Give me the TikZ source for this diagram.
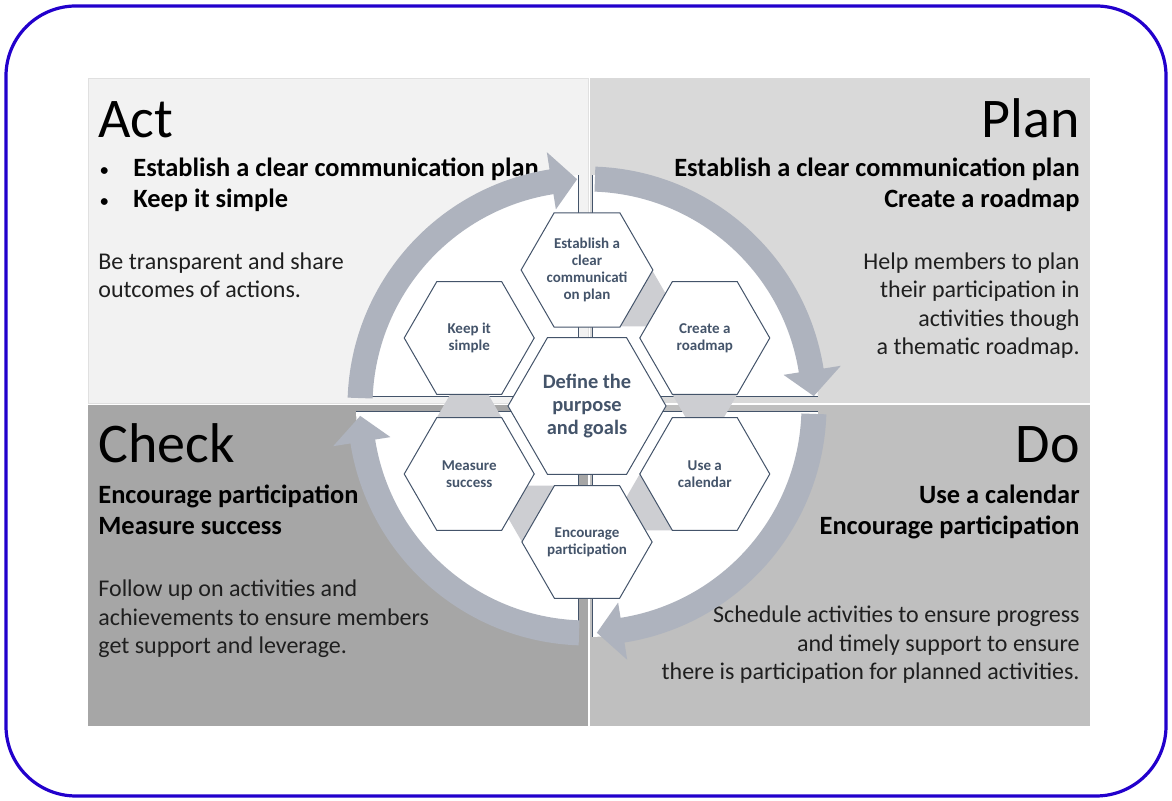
\documentclass[tikz,border=0pt]{standalone}
\usepackage{fontspec}
\setmainfont{Carlito}
\usetikzlibrary{calc,shapes.geometric}
\definecolor{Frame}{HTML}{2200CC}
\definecolor{ActBg}{HTML}{F2F2F2}
\definecolor{PlanBg}{HTML}{D9D9D9}
\definecolor{CheckBg}{HTML}{A6A6A6}
\definecolor{DoBg}{HTML}{BFBFBF}
\definecolor{Slate}{HTML}{44546A}
\definecolor{Ring}{HTML}{AEB3BE}
\definecolor{Cue}{HTML}{CDCED2}
\definecolor{Ink}{HTML}{1F1F1F}
\tikzset{
  panel/.style={draw=black!12,line width=0.4pt},
  title/.style={font=\fontsize{28}{34}\selectfont,text=black,inner sep=0pt},
  lead/.style={font=\fontsize{13.2}{15.5}\selectfont\bfseries,text=black,inner sep=0pt},
  note/.style={font=\fontsize{12}{14.25}\selectfont,text=Ink,inner sep=0pt},
  hexcell/.style={regular polygon,regular polygon sides=6,draw=Slate,fill=white,line width=0.5pt,minimum size=65pt,inner sep=0pt,outer sep=0pt,align=center,font=\fontsize{7.5}{8.6}\selectfont\bfseries,text=Slate},
  hexcore/.style={hexcell,minimum size=79pt,font=\fontsize{10.2}{11.5}\selectfont\bfseries},
  ringarrow/.style={fill=Ring},
  cue/.style={fill=Cue},
  axisline/.style={draw=Slate,line width=0.5pt}
}
\newcommand{\bul}{\makebox[17.5pt][l]{\hspace{1pt}\raisebox{0.5pt}{\fontsize{8}{8}\selectfont •}}}

\begin{document}
\begin{tikzpicture}[x=0.5pt,y=0.5pt]
  \useasboundingbox (0,0) rectangle (1172,801);
  \draw[Frame,line width=1.6pt,rounded corners=35pt] (6,5) rectangle (1166,795);

  \fill[ActBg,panel] (88,398) rectangle (588,723);
  \fill[PlanBg] (590,398) rectangle (1090,723);
  \fill[CheckBg] (88,75) rectangle (588,396);
  \fill[DoBg] (590,75) rectangle (1090,396);

  \node[title,anchor=base west] (acttitle) at (98,663) {Act};
  \node[title,anchor=base east] (plantitle) at (1080,663) {Plan};
  \node[title,anchor=base west] (checktitle) at (98,338) {Check};
  \node[title,anchor=base east] (dotitle) at (1080,338) {Do};

  \node[lead,anchor=base west,align=left] (actlead) at (98,593) {\bul Establish a clear communication plan\\\bul Keep it simple};
  \node[lead,anchor=base east,align=right] (planlead) at (1080,593) {Establish a clear communication plan\\Create a roadmap};
  \node[lead,anchor=base west,align=left] (checklead) at (98,266) {Encourage participation\\Measure success};
  \node[lead,anchor=base east,align=right] (dolead) at (1080,266) {Use a calendar\\Encourage participation};

  \node[note,anchor=base west,align=left] (actnote) at (98,503) {Be transparent and share\\outcomes of actions.};
  \node[note,anchor=base east,align=right] (plannote) at (1080,446) {Help members to plan\\their participation in\\activities though\\a thematic roadmap.};
  \node[note,anchor=base west,align=left] (checknote) at (98,147) {Follow up on activities and\\achievements to ensure members\\get support and leverage.};
  \node[note,anchor=base east,align=right] (donote) at (1080,121) {Schedule activities to ensure progress\\and timely support to ensure\\there is participation for planned activities.};

  \coordinate (mid) at (587,395);
  \begin{scope}
    \clip (mid) circle (231);
    \fill[white] (578,404) rectangle (300,700);
    \fill[white] (592,404) rectangle (900,700);
    \fill[white] (578,389) rectangle (300,90);
    \fill[white] (592,389) rectangle (900,90);
    \draw[axisline] (300,404) -- (578,404) -- (578,700);
    \draw[axisline] (900,404) -- (592,404) -- (592,700);
    \draw[axisline] (300,389) -- (578,389) -- (578,90);
    \draw[axisline] (900,389) -- (592,389) -- (592,90);
  \end{scope}

  \begin{scope}[shift={(mid)}]
    \foreach \a in {180,90,0,-90}
      \fill[ringarrow] (\a-2:239.5) arc[start angle=\a-2,end angle=\a-81,radius=239.5]
        -- (\a-81:257) -- (\a-87.5:227) -- (\a-81:199) -- (\a-81:214.5)
        arc[start angle=\a-81,end angle=\a-2,radius=214.5] -- cycle;
  \end{scope}

  \coordinate (est) at ($(mid)+(90:136)$);
  \coordinate (road) at ($(mid)+(30:136)$);
  \coordinate (cal) at ($(mid)+(-30:136)$);
  \coordinate (part) at ($(mid)+(-90:136)$);
  \coordinate (meas) at ($(mid)+(210:136)$);
  \foreach \s/\d in {est/-30,road/-90,cal/210,part/150,meas/90}
    \fill[cue] ($(\s)+(\d+30:65)$) -- ($(\s)+(\d-30:65)$) -- ($(\s)+(\d:112.6)$) -- cycle;

  \node[hexcore] (goal) at (mid) {Define the\\purpose\\and goals};
  \node[hexcell] (estcell) at (est) {Establish a\\clear\\communicati\\on plan};
  \node[hexcell] (roadcell) at (road) {Create a\\roadmap};
  \node[hexcell] (calcell) at (cal) {Use a\\calendar};
  \node[hexcell] (partcell) at (part) {Encourage\\participation};
  \node[hexcell] (meascell) at (meas) {Measure\\success};
  \node[hexcell] (simplecell) at ($(mid)+(150:136)$) {Keep it\\simple};
\end{tikzpicture}
\end{document}
